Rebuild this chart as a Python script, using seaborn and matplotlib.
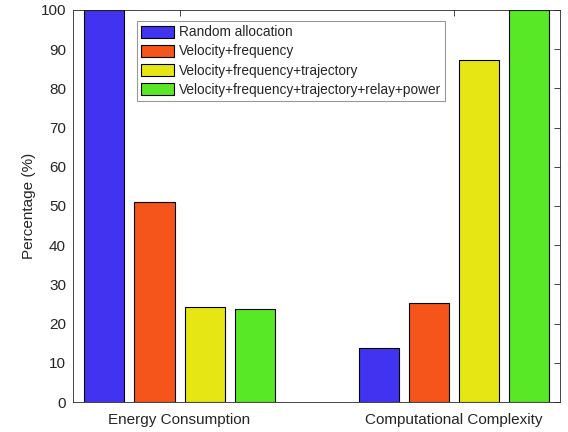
import pandas as pd
import matplotlib
matplotlib.use('Agg')
import matplotlib.pyplot as plt
import seaborn as sns

# Chart data
metrics = ['Energy Consumption', 'Computational Complexity']
schemes = ['Random allocation', 'Velocity+frequency',
           'Velocity+frequency+trajectory',
           'Velocity+frequency+trajectory+relay+power']
energy = [100, 51.0, 24.3, 23.8]
complexity = [13.7, 25.3, 87.2, 100]
colors = ['#4133f0', '#f5541a', '#e6e614', '#58e825']

df = pd.DataFrame({
    'metric': [metrics[0]] * 4 + [metrics[1]] * 4,
    'scheme': schemes + schemes,
    'value': energy + complexity,
})

sns.set_style('white')
plt.rcParams['font.family'] = ['Liberation Sans', 'DejaVu Sans']

fig = plt.figure(figsize=(5.68, 4.32), dpi=100)
ax = fig.add_axes([0.1285, 0.0694, 0.8575, 0.9076])

sns.barplot(data=df, x='metric', y='value', hue='scheme', order=metrics,
            hue_order=schemes, palette=colors, width=0.73, gap=0.2,
            edgecolor='black', linewidth=0.8, saturation=1, ax=ax)

ax.set_xlim(-0.388, 1.386)
ax.set_ylim(0, 100)
ax.set_yticks(range(0, 101, 10))
ax.set_xlabel('')
ax.set_ylabel('Percentage (%)', fontsize=11, color='#262626', labelpad=3)
ax.tick_params(direction='in', top=True, right=True, labelsize=11,
               colors='#262626', length=4, width=0.6)
ax.tick_params(axis='x', pad=8)
ax.tick_params(axis='y', pad=5)
for s in ax.spines.values():
    s.set_color('#262626')
    s.set_linewidth(0.6)

leg = ax.legend(loc='upper left', bbox_to_anchor=(0.131, 0.972), fontsize=9.8,
                frameon=True, fancybox=False, handlelength=2.45,
                handleheight=1.0, handletextpad=0.31, borderpad=0.32,
                labelspacing=0.38, borderaxespad=0)
leg.get_frame().set_edgecolor('#808080')
leg.get_frame().set_linewidth(0.8)

fig.savefig('out.png', dpi=100)
